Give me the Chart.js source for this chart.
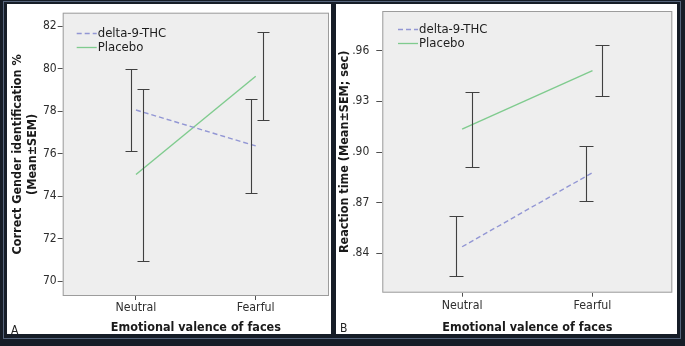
<!DOCTYPE html>
<html><head><meta charset="utf-8">
<script src="https://cdn.jsdelivr.net/npm/chart.js@4.4.0/dist/chart.umd.min.js"></script>
<style>
html,body{margin:0;padding:0;}
body{width:685px;height:346px;background:#161d27;position:relative;overflow:hidden;}
#stripe{position:absolute;left:3px;top:1px;width:678px;height:338px;border:1px solid #56657c;box-sizing:border-box;}
.panel{position:absolute;background:#fff;}
#pa{left:7px;top:4px;width:324px;height:330px;}
#pb{left:336px;top:4px;width:341px;height:330px;}
canvas{display:block;}
.lbl{position:absolute;font:12px "DejaVu Sans Condensed","DejaVu Sans",sans-serif;color:#222;line-height:12px;}
</style></head>
<body>
<div id="stripe"></div>
<div class="panel" id="pa"><canvas id="ca" width="324" height="330"></canvas></div>
<div class="panel" id="pb"><canvas id="cb" width="341" height="330"></canvas></div>
<div class="lbl" style="left:11px;top:324px;">A</div>
<div class="lbl" style="left:340px;top:322px;">B</div>
<script>
// ---------- data ----------
const categories = ['Neutral', 'Fearful'];
const seriesNames = ['delta-9-THC', 'Placebo'];

// Panel A: correct gender identification %
const genderThcMean  = [78.05, 76.36];
const genderThcUpper = [80.00, 78.56];
const genderThcLower = [76.14, 74.13];
const genderPlaMean  = [75.02, 79.64];
const genderPlaUpper = [79.02, 81.72];
const genderPlaLower = [70.95, 77.58];
const genderTicks = [70, 72, 74, 76, 78, 80, 82];

// Panel B: reaction time (sec)
const rtThcMean  = [0.8439, 0.8878];
const rtThcUpper = [0.8621, 0.9033];
const rtThcLower = [0.8264, 0.8709];
const rtPlaMean  = [0.9136, 0.9482];
const rtPlaUpper = [0.9356, 0.9632];
const rtPlaLower = [0.8913, 0.9330];
const rtTicks = [0.84, 0.87, 0.90, 0.93, 0.96];

// ---------- styles ----------
const FONT = '"DejaVu Sans Condensed","DejaVu Sans",sans-serif';
const THC_COLOR = '#9296d4';
const PLA_COLOR = '#7fcb8e';
const BAR_COLOR = '#404040';
const TICK_COLOR = '#505050';

function zeroPad(s) {
  s.paddingTop = 0; s.paddingBottom = 0; s.paddingLeft = 0; s.paddingRight = 0;
}

function makeChart(id, o) {
  const ctx = document.getElementById(id);
  const plugins = [{
    id: 'plotbg',
    beforeDatasetsDraw(chart) {
      const a = chart.chartArea, c = chart.ctx;
      c.save();
      c.fillStyle = '#eeeeee';
      c.fillRect(a.left, a.top, a.right - a.left, a.bottom - a.top);
      c.strokeStyle = '#9c9c9c';
      c.lineWidth = 1;
      c.strokeRect(a.left + 0.5, a.top + 0.5, a.right - a.left - 1, a.bottom - a.top - 1);
      c.restore();
    }
  }, {
    id: 'errbars',
    afterDatasetsDraw(chart) {
      const c = chart.ctx, xs = chart.scales.x, ys = chart.scales.y;
      c.save();
      c.strokeStyle = BAR_COLOR;
      c.lineWidth = 1.1;
      o.bars.forEach(b => {
        b.upper.forEach((u, i) => {
          const x = Math.round(xs.getPixelForValue(i) + b.dodge) + 0.5;
          const yt = Math.round(ys.getPixelForValue(u)) + 0.5;
          const yb = Math.round(ys.getPixelForValue(b.lower[i])) + 0.5;
          c.beginPath();
          c.moveTo(x, yt); c.lineTo(x, yb);
          c.moveTo(x - o.cap, yt); c.lineTo(x + o.cap, yt);
          c.moveTo(x - o.cap, yb); c.lineTo(x + o.cap, yb);
          c.stroke();
        });
      });
      c.restore();
    }
  }, {
    id: 'inlegend',
    afterDraw(chart) {
      const c = chart.ctx, a = chart.chartArea;
      c.save();
      c.font = '13px ' + FONT;
      c.textBaseline = 'middle';
      c.fillStyle = '#1e1e1e';
      chart.data.datasets.forEach((ds, k) => {
        const y = Math.round(a.top + o.legendTop + k * o.legendGap) + 0.5;
        const x0 = a.left + o.legendLeft;
        c.strokeStyle = ds.borderColor;
        c.lineWidth = 1.3;
        c.setLineDash(ds.borderDash || []);
        c.beginPath(); c.moveTo(x0, y); c.lineTo(x0 + 20, y); c.stroke();
        c.fillText(ds.label, x0 + 21, y);
      });
      c.restore();
    }
  }];

  return new Chart(ctx, {
    type: 'line',
    data: {
      datasets: [{
        label: seriesNames[0],
        data: o.thc.map((v, i) => ({x: i, y: v})),
        borderColor: THC_COLOR, borderWidth: 1.4, borderDash: [5, 3],
        pointRadius: 0, fill: false, tension: 0
      }, {
        label: seriesNames[1],
        data: o.pla.map((v, i) => ({x: i, y: v})),
        borderColor: PLA_COLOR, borderWidth: 1.4,
        pointRadius: 0, fill: false, tension: 0
      }]
    },
    options: {
      responsive: false, animation: false,
      layout: {padding: {left: 0, top: o.padTop, right: o.padRight, bottom: 0}},
      plugins: {legend: {display: false}, tooltip: {enabled: false}},
      scales: {
        x: {
          type: 'linear', min: -0.612, max: 1.612,
          afterBuildTicks: s => { s.ticks = categories.map((c, i) => ({value: i})); },
          afterFit: s => { s.height = o.xAxisHeight; zeroPad(s); },
          ticks: {callback: v => categories[v], font: {family: FONT, size: 12.3, lineHeight: 1}, color: '#2e2e2e', padding: o.xTickPad, autoSkip: false, maxRotation: 0},
          grid: {drawOnChartArea: false, drawTicks: true, tickLength: 4, tickColor: TICK_COLOR},
          border: {display: false},
          title: {display: true, text: 'Emotional valence of faces', font: {family: FONT, size: 12.5, weight: 'bold', lineHeight: 1}, color: '#1a1a1a', padding: 0}
        },
        y: {
          type: 'linear', min: o.yMin, max: o.yMax,
          afterBuildTicks: s => { s.ticks = o.ticks.map(v => ({value: v})); },
          afterFit: s => { s.width = o.yAxisWidth; zeroPad(s); },
          ticks: {callback: o.fmt, font: {family: FONT, size: 12}, color: '#2e2e2e', padding: o.yTickPad},
          grid: {drawOnChartArea: false, drawTicks: true, tickLength: o.yTickLen, tickColor: TICK_COLOR},
          border: {display: false},
          title: {display: true, text: o.yTitle, font: {family: FONT, size: 12.5, weight: 'bold', lineHeight: 1.2}, color: '#1a1a1a', padding: {top: o.yTitlePad, bottom: 0}}
        }
      }
    },
    plugins
  });
}

makeChart('ca', {
  thc: genderThcMean, pla: genderPlaMean,
  bars: [{upper: genderThcUpper, lower: genderThcLower, dodge: -5},
         {upper: genderPlaUpper, lower: genderPlaLower, dodge: 7}],
  ticks: genderTicks, yMin: 69.3, yMax: 82.63,
  fmt: v => String(v),
  yTitle: ['Correct Gender identification %', '(Mean±SEM)'],
  padTop: 8.7, padRight: 2, xAxisHeight: 38, yAxisWidth: 55.7,
  xTickPad: 2, yTitlePad: 3.5, cap: 6, yTickLen: 5, yTickPad: 1,
  legendTop: 20.5, legendLeft: 14, legendGap: 13.5
});

makeChart('cb', {
  thc: rtThcMean, pla: rtPlaMean,
  bars: [{upper: rtThcUpper, lower: rtThcLower, dodge: -6.5},
         {upper: rtPlaUpper, lower: rtPlaLower, dodge: 9.5}],
  ticks: rtTicks, yMin: 0.8167, yMax: 0.9835,
  fmt: v => v.toFixed(2).replace(/^0/, ''),
  yTitle: 'Reaction time (Mean±SEM; sec)',
  padTop: 7, padRight: 4.7, xAxisHeight: 41.3, yAxisWidth: 46.3,
  xTickPad: 3.3, yTitlePad: 1.5, cap: 7, yTickLen: 6, yTickPad: 7,
  legendTop: 18, legendLeft: 15.7, legendGap: 13.5
});
</script>
</body></html>
